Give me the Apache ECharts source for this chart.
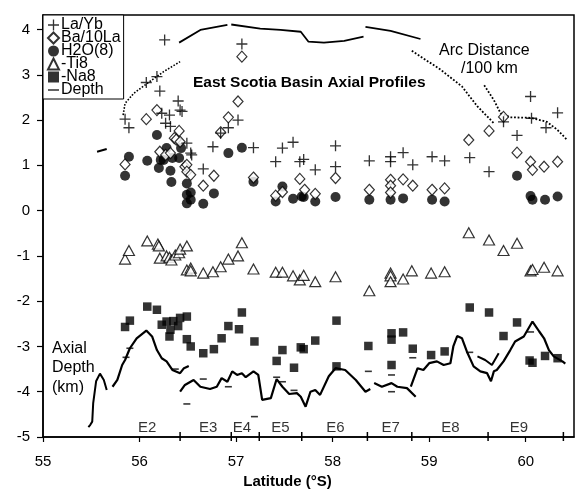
<!DOCTYPE html>
<html><head><meta charset="utf-8">
<script src="https://cdn.jsdelivr.net/npm/echarts@6/dist/echarts.min.js"></script>
<style>html,body{margin:0;padding:0;background:#fff}#c{width:577px;height:490px}</style>
</head><body><div id="c"></div>
<script>
// ---- data (latitude °S, value) ----
const laYb = [[55.85,2.02],[55.89,1.83],[56.07,2.83],[56.18,2.96],[56.21,2.64],[56.26,3.77],[56.23,2.15],[56.31,2.11],[56.27,1.93],[56.32,1.86],[56.40,2.42],[56.42,2.22],[56.44,2.19],[56.49,1.49],[56.53,1.27],[56.54,1.23],[56.66,0.92],[56.76,1.41],[56.84,1.71],[56.92,1.83],[57.02,2.00],[57.06,3.68],[57.18,1.39],[57.41,1.08],[57.48,1.38],[57.59,1.51],[57.66,1.08],[57.70,1.13],[57.82,0.90],[58.03,1.43],[58.03,0.97],[58.38,1.10],[58.60,1.19],[58.60,1.08],[58.73,1.28],[58.83,1.01],[59.03,1.19],[59.16,1.10],[59.42,1.17],[59.62,0.86],[59.77,1.96],[59.91,1.66],[60.05,2.52],[60.06,2.04],[60.21,1.83],[60.33,2.16]];
const ba10La = [[55.85,1.02],[56.07,2.02],[56.18,2.22],[56.21,1.30],[56.27,1.23],[56.32,1.27],[56.36,1.60],[56.38,1.57],[56.41,1.76],[56.42,1.52],[56.47,0.97],[56.49,1.01],[56.49,0.86],[56.53,0.79],[56.66,0.55],[56.77,0.77],[56.84,1.73],[56.92,2.06],[57.02,2.41],[57.06,3.40],[57.18,0.73],[57.41,0.33],[57.48,0.41],[57.66,0.70],[57.71,0.46],[57.82,0.37],[58.03,0.72],[58.38,0.46],[58.60,0.68],[58.60,0.55],[58.60,0.40],[58.73,0.69],[58.83,0.55],[59.03,0.46],[59.16,0.49],[59.41,1.56],[59.62,1.76],[59.77,2.07],[59.91,1.28],[60.05,1.08],[60.07,0.90],[60.19,0.97],[60.33,1.08]];
const h2o8 = [[55.85,0.77],[55.89,1.19],[56.08,1.10],[56.18,1.67],[56.20,0.94],[56.22,1.12],[56.25,1.12],[56.28,1.38],[56.32,0.88],[56.33,0.63],[56.34,1.16],[56.41,1.16],[56.43,1.38],[56.49,0.60],[56.49,0.35],[56.49,0.16],[56.53,0.40],[56.53,0.24],[56.66,0.15],[56.77,0.38],[56.92,1.27],[57.06,1.39],[57.18,0.64],[57.41,0.20],[57.48,0.53],[57.59,0.26],[57.68,0.31],[57.70,0.30],[57.82,0.20],[58.03,0.30],[58.38,0.24],[58.60,0.24],[58.73,0.27],[59.03,0.24],[59.16,0.20],[59.91,0.77],[60.05,0.32],[60.07,0.24],[60.20,0.24],[60.33,0.31]];
const negTi8 = [[55.85,-1.07],[55.89,-0.88],[56.08,-0.67],[56.19,-0.74],[56.20,-0.78],[56.21,-1.05],[56.28,-1.00],[56.31,-1.03],[56.33,-1.09],[56.37,-0.98],[56.41,-0.93],[56.42,-0.85],[56.49,-0.78],[56.49,-1.31],[56.53,-1.27],[56.53,-1.33],[56.66,-1.38],[56.76,-1.35],[56.84,-1.24],[56.92,-1.07],[57.02,-1.00],[57.06,-0.71],[57.18,-1.29],[57.41,-1.36],[57.48,-1.36],[57.59,-1.44],[57.66,-1.53],[57.70,-1.43],[57.82,-1.57],[58.03,-1.46],[58.38,-1.77],[58.60,-1.38],[58.60,-1.44],[58.60,-1.57],[58.73,-1.51],[58.82,-1.33],[59.02,-1.38],[59.16,-1.35],[59.41,-0.49],[59.62,-0.65],[59.77,-0.88],[59.91,-0.72],[60.05,-1.33],[60.07,-1.30],[60.19,-1.25],[60.33,-1.33]];
const negNa8 = [[55.85,-2.57],[55.90,-2.43],[56.08,-2.12],[56.18,-2.19],[56.23,-2.52],[56.28,-2.45],[56.32,-2.63],[56.35,-2.44],[56.40,-2.55],[56.42,-2.37],[56.31,-2.78],[56.49,-2.34],[56.49,-2.84],[56.53,-3.00],[56.66,-3.15],[56.77,-3.06],[56.85,-2.82],[56.92,-2.55],[57.03,-2.62],[57.06,-2.25],[57.19,-2.89],[57.42,-3.32],[57.48,-3.08],[57.60,-3.47],[57.67,-3.02],[57.70,-3.06],[57.82,-2.87],[58.04,-2.43],[58.04,-3.44],[58.37,-2.99],[58.61,-2.71],[58.61,-2.85],[58.61,-3.41],[58.73,-2.69],[58.83,-3.05],[59.02,-3.19],[59.16,-3.11],[59.42,-2.14],[59.62,-2.25],[59.77,-2.77],[59.91,-2.47],[60.04,-3.31],[60.07,-3.36],[60.20,-3.21],[60.33,-3.26]];
const depthPts = [[55.86,-3.24],[55.90,-3.04],[56.37,-3.50],[56.49,-4.27],[56.66,-3.72],[56.92,-3.89],[57.19,-4.55],[57.42,-3.68],[57.48,-3.78],[57.60,-3.97],[58.37,-3.55],[58.61,-3.63],[58.61,-4.00],[58.83,-3.25],[59.42,-3.13],[60.05,-2.68]];
// axial depth profiles (km)
const profileE1 = [[55.47,-4.78],[55.49,-4.73],[55.51,-4.66],[55.52,-4.25],[55.55,-3.77],[55.59,-3.60],[55.63,-3.74],[55.66,-3.96]];
const profileE2 = [[55.72,-3.89],[55.77,-3.74],[55.82,-3.41],[55.85,-3.30],[55.90,-3.04],[55.97,-2.82],[56.07,-2.65],[56.13,-2.78],[56.18,-3.08],[56.23,-3.26],[56.28,-3.33],[56.34,-3.52],[56.42,-3.59],[56.46,-3.48],[56.51,-3.43]];
const profileE3E6 = [[56.42,-4.00],[56.47,-3.85],[56.56,-3.74],[56.63,-3.89],[56.73,-3.94],[56.80,-3.89],[56.85,-3.70],[56.91,-3.78],[56.96,-3.55],[57.01,-3.63],[57.06,-3.59],[57.10,-3.68],[57.18,-3.55],[57.23,-3.63],[57.27,-4.18],[57.36,-4.14],[57.42,-3.72],[57.48,-3.89],[57.55,-4.05],[57.63,-4.03],[57.67,-4.11],[57.72,-4.33],[57.77,-4.00],[57.82,-3.96],[57.87,-4.07],[57.96,-3.66],[58.03,-3.48],[58.13,-3.52],[58.24,-3.74],[58.34,-4.00],[58.39,-3.94]];
const profileE7 = [[58.43,-3.81],[58.51,-3.89],[58.61,-3.81],[58.67,-3.89],[58.77,-3.92],[58.86,-4.11]];
const profileE7E9 = [[58.81,-3.89],[58.88,-3.48],[58.94,-3.52],[59.00,-3.37],[59.08,-3.33],[59.15,-3.41],[59.22,-3.37],[59.25,-3.00],[59.29,-2.77],[59.34,-2.82],[59.39,-3.11],[59.46,-3.44],[59.53,-3.55],[59.60,-3.59],[59.64,-3.77],[59.67,-3.55],[59.70,-3.52],[59.77,-3.33],[59.84,-3.08],[59.89,-2.89],[59.98,-2.78],[60.07,-2.45],[60.09,-2.43],[60.14,-2.67],[60.19,-2.82],[60.24,-3.08],[60.29,-3.22],[60.38,-3.33],[60.41,-3.38]];
const profileE8b = [[59.50,-3.22],[59.58,-3.30],[59.65,-3.41],[59.72,-3.15]];
// arc distance / 100 km
const arcA = [[55.83,2.11],[55.85,2.37],[55.94,2.59],[56.08,2.81],[56.25,3.07],[56.42,3.29]];
const arcB = [[56.41,3.71],[56.63,3.99],[56.91,4.10]];
const arcC = [[56.95,4.11],[57.25,4.02],[57.46,3.99],[57.67,3.95],[57.75,3.73],[57.91,3.71],[58.12,3.75],[58.32,3.84]];
const arcD = [[58.34,4.06],[58.60,3.97],[58.91,3.79]];
const arcE = [[58.82,3.53],[59.12,3.11],[59.34,2.74],[59.50,2.30],[59.67,1.93]];
const arcF = [[59.57,2.77],[59.67,2.44],[59.74,2.15],[59.84,2.06],[60.05,2.05],[60.22,1.96],[60.33,1.78],[60.43,1.56]];
const arcG = [[55.56,1.30],[55.66,1.36]];
// segment names and boundaries
const segNames = ['E2','E3','E4','E5','E6','E7','E8','E9'];
const segLat = [56.08,56.71,57.06,57.46,58.03,58.60,59.22,59.93];
const segBounds = [56.42,56.95,57.24,57.68,58.36,58.82,59.61,60.39];
const yTicks = [-5,-4,-3,-2,-1,0,1,2,3,4];
const xTicks = [55,56,57,58,59,60];

const FONT = 'Liberation Sans, Arial, sans-serif';
const PLUS = 'path://M4.4,0H5.6V4.4H10V5.6H5.6V10H4.4V5.6H0V4.4H4.4Z';
const DASH = 'path://M0,4.3H10V5.7H0Z';
const YMIN = -5;

function lineSeries(data, type, width) {
  return {type:'line', data, showSymbol:false, symbol:'none', silent:true, z:2, connectNulls:false,
    lineStyle:{color:'#000', width:width, type:type}, animation:false};
}

const texts = [
  {id:'t0', type:'text', left:193, top:75, style:{text:'East Scotia Basin Axial Profiles', font:'bold 15.5px '+FONT, fill:'#000'}},
  {id:'t1', type:'text', left:439, top:43, style:{text:'Arc Distance', font:'16px '+FONT, fill:'#000'}},
  {id:'t2', type:'text', left:461, top:61, style:{text:'/100 km', font:'16px '+FONT, fill:'#000'}},
  {id:'t3', type:'text', left:52, top:341, style:{text:'Axial', font:'16px '+FONT, fill:'#000'}},
  {id:'t4', type:'text', left:52, top:360, style:{text:'Depth', font:'16px '+FONT, fill:'#000'}},
  {id:'t5', type:'text', left:52, top:380, style:{text:'(km)', font:'16px '+FONT, fill:'#000'}}
];

const chart = echarts.init(document.getElementById('c'), null, {renderer:'canvas'});
chart.setOption({
  animation:false,
  backgroundColor:'#fff',
  grid:{left:43, right:3, top:15, bottom:53, show:true, borderColor:'#000', borderWidth:1.5,
    containLabel:false, outerBoundsMode:'none'},
  legend:{
    left:43, top:15, orient:'vertical', itemGap:-3, itemWidth:11, itemHeight:11,
    padding:[2,3,1,4], borderColor:'#000', borderWidth:1, backgroundColor:'#fff',
    textStyle:{fontFamily:FONT, fontSize:16, color:'#000', padding:[0,0,0,-3]},
    data:[{name:'La/Yb', icon:PLUS},{name:'Ba/10La'},{name:'H2O(8)'},{name:'-Ti8'},{name:'-Na8'},
      {name:'Depth', icon:DASH}],
    selectedMode:false, z:10
  },
  xAxis:{type:'value', min:55, max:60.5, interval:1,
    name:'Latitude (°S)', nameLocation:'middle', nameGap:36,
    nameTextStyle:{fontFamily:FONT, fontSize:15, fontWeight:'bold', color:'#000', padding:[0,42,0,0]},
    axisLine:{onZero:false, lineStyle:{color:'#000', width:1.5}},
    axisTick:{length:5, customValues:xTicks, lineStyle:{color:'#000', width:1.2}},
    axisLabel:{fontFamily:FONT, fontSize:15, color:'#000', margin:17, customValues:xTicks,
      formatter:v => String(v)},
    splitLine:{show:false}},
  yAxis:{type:'value', min:YMIN, max:4.32, interval:1,
    axisLine:{show:true, lineStyle:{color:'#000', width:1.5}},
    axisTick:{show:true, length:6, customValues:yTicks, lineStyle:{color:'#000', width:1.2}},
    axisLabel:{fontFamily:FONT, fontSize:15, color:'#000', margin:13, customValues:yTicks,
      formatter:v => String(v)},
    splitLine:{show:false}},
  graphic: texts,
  series:[
    lineSeries(profileE1,'solid',2), lineSeries(profileE2,'solid',2.2), lineSeries(profileE3E6,'solid',2.2),
    lineSeries(profileE7,'solid',2.2), lineSeries(profileE7E9,'solid',2.2), lineSeries(profileE8b,'solid',2),
    lineSeries(arcA,'dotted',1.6), lineSeries(arcB,'solid',1.8), lineSeries(arcC,'solid',1.8),
    lineSeries(arcD,'solid',1.8), lineSeries(arcE,'dotted',1.8), lineSeries(arcF,'dotted',1.8), lineSeries(arcG,'solid',2),
    {name:'-Na8', type:'scatter', data:negNa8, symbol:'rect', symbolSize:8.5, z:3,
      itemStyle:{color:'#000'}},
    {name:'-Ti8', type:'scatter', data:negTi8, symbol:'triangle', symbolSize:[11,10], z:3,
      itemStyle:{color:'#fff', borderColor:'#000', borderWidth:1.2}},
    {name:'H2O(8)', type:'scatter', data:h2o8, symbol:'circle', symbolSize:10, z:3,
      itemStyle:{color:'#000'}},
    {name:'Ba/10La', type:'scatter', data:ba10La, symbol:'diamond', symbolSize:[10,11], z:4,
      itemStyle:{color:'#fff', borderColor:'#000', borderWidth:1.2}},
    {name:'La/Yb', type:'scatter', data:laYb, symbol:PLUS, symbolSize:11, z:5,
      itemStyle:{color:'#000'}},
    {name:'Depth', type:'scatter', data:depthPts, symbol:'rect', symbolSize:[7,1.6], z:5,
      itemStyle:{color:'#000'}},
    {type:'scatter', silent:true, data:segNames.map((n,i) => ({name:n, value:[segLat[i],-4.80]})),
      symbolSize:0, z:6,
      label:{show:true, position:'inside', formatter:p => p.name, fontFamily:FONT, fontSize:15, color:'#000'}}
  ]
});

// segment-boundary ticks on the bottom axis, placed through the chart's own scale
const tickEls = segBounds.map((b, i) => {
  const p = chart.convertToPixel({xAxisIndex:0, yAxisIndex:0}, [b, YMIN]);
  return {id:'bt' + i, type:'line', z:100, silent:true,
    shape:{x1:p[0], y1:p[1] - 5, x2:p[0], y2:p[1] + 4},
    style:{stroke:'#000', lineWidth:1.5}};
});
chart.setOption({graphic: texts.concat(tickEls)});
</script></body></html>
